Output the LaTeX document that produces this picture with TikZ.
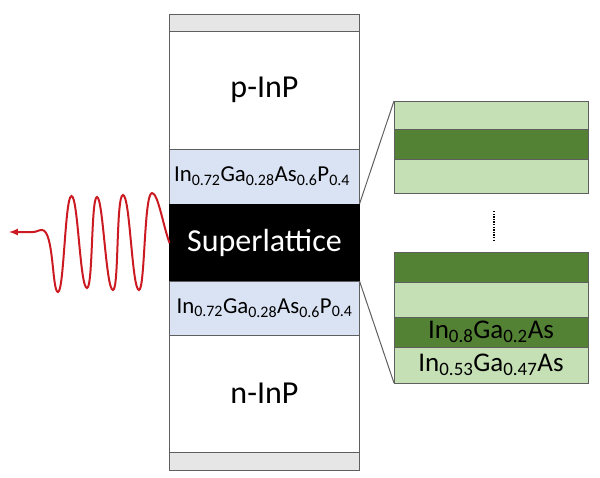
\documentclass[tikz,border=0pt]{standalone}
\usepackage{fontspec}
\setmainfont{Carlito}
\definecolor{Cap}{HTML}{E7E6E6}
\definecolor{Quat}{HTML}{DAE3F3}
\definecolor{WellLight}{HTML}{C5E0B4}
\definecolor{WellDark}{HTML}{548235}
\definecolor{Edge}{HTML}{5F5F5F}
\definecolor{Wave}{HTML}{CC1A22}
\tikzset{
  layer/.style={draw=Edge, line width=1, rectangle, inner sep=0, outer sep=0, text=black, font=\fontsize{#1}{#1}\selectfont},
  layer/.default=32,
  stacklayer/.style={layer, minimum width=190},
  welllayer/.style={layer=27, minimum width=194},
}
\newcommand{\sbs}[1]{\textsubscript{#1}}

\begin{document}
\begin{tikzpicture}[x=1pt, y=-1pt]
 \useasboundingbox (0,0) rectangle (600,477);

 %%%%%%%%%% Device stack %%%%%%%%%%
 \node [stacklayer, fill=Cap, minimum height=17.5] (captop) at (264.5,22.75) {};
 \node [stacklayer, fill=white, minimum height=117.5] (pinp) at (264.5,90.25) {p-InP};
 \node [stacklayer, layer=22.8, fill=Quat, minimum height=55] (quattop) at (264.5,176.5) {In\sbs{0.72}Ga\sbs{0.28}As\sbs{0.6}P\sbs{0.4}\hspace*{5pt}};
 \node [stacklayer, fill=black, draw=black, text=white, minimum height=77] (sl) at (264.5,242.5) {Superlattice};
 \node [stacklayer, layer=22.8, fill=Quat, minimum height=54] (quatbot) at (264.5,308) {In\sbs{0.72}Ga\sbs{0.28}As\sbs{0.6}P\sbs{0.4}};
 \node [stacklayer, fill=white, minimum height=117] (ninp) at (264.5,393.5) {n-InP};
 \node [stacklayer, fill=Cap, minimum height=18] (capbot) at (264.5,461) {};

 %%%%%%%%%% Zoom, upper part %%%%%%%%%%
 \node [welllayer, fill=WellLight, minimum height=28.5] (upa) at (491,115.25) {};
 \node [welllayer, fill=WellDark, minimum height=30] (upb) at (491,144.5) {};
 \node [welllayer, fill=WellLight, minimum height=33.5] (upc) at (491,176.25) {};

 %%%%%%%%%% Zoom, lower part %%%%%%%%%%
 \node [welllayer, fill=WellDark, minimum height=30] (lowa) at (491,267.5) {};
 \node [welllayer, fill=WellLight, minimum height=34.5] (lowb) at (491,299.75) {};
 \node [welllayer, fill=WellDark, minimum height=30] (lowc) at (491,332) {In\sbs{0.8}Ga\sbs{0.2}As};
 \node [welllayer, fill=WellLight, minimum height=36] (lowd) at (491,365) {In\sbs{0.53}Ga\sbs{0.47}As};

 % Zoom lines
 \draw [Edge, line width=1] (sl.north east) -- (upa.north west);
 \draw [Edge, line width=1] (sl.south east) -- (lowd.south west);
 \coordinate (dottop) at (494,211);
 \coordinate (dotbot) at (494,241);
 \draw [black, line width=1.3, dash pattern=on 1.3 off 1.3] (dottop) -- (dotbot);

 %%%%%%%%%%% Emitted wave %%%%%%%%%%%
 \coordinate (wavetip) at (9,232);
 \draw [-latex, Wave, line width=2] (sl.west |- 0,243) .. controls (163,225) and (158,193) .. (152,193)
   .. controls (144,193) and (145,290) .. (139,290)
   .. controls (132,290) and (130,195) .. (123,195)
   .. controls (116,195) and (119,290) .. (113,290)
   .. controls (106,290) and (103,197) .. (97,197)
   .. controls (91,197) and (93,288) .. (87,288)
   .. controls (80,288) and (78,196) .. (71.5,196)
   .. controls (65,196) and (64,292) .. (58,292)
   .. controls (52,292) and (54,230) .. (42,230)
   .. controls (38,230) and (37,232) .. (33,232) -- (wavetip);
\end{tikzpicture}
\end{document}
